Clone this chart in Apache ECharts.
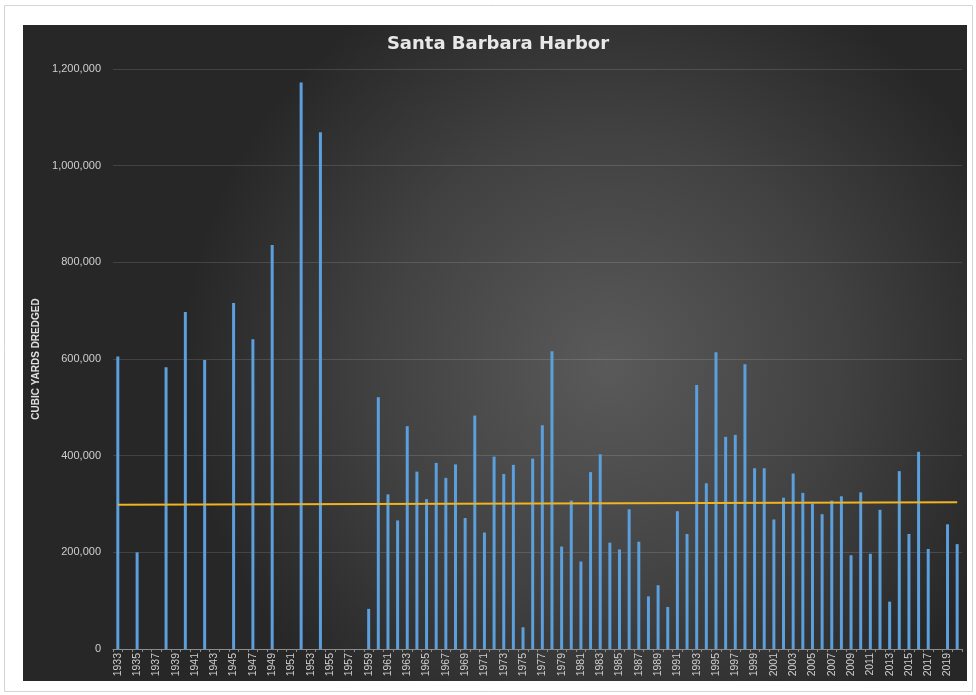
<!DOCTYPE html>
<html>
<head>
<meta charset="utf-8">
<script src="https://cdn.jsdelivr.net/npm/echarts@6/dist/echarts.min.js"></script>
<style>
html,body{margin:0;padding:0;background:#ffffff;}
#chart{width:976px;height:695px;}
</style>
</head>
<body>
<div id="chart"></div>
<script>
var years = ['1933','1934','1935','1936','1937','1938','1939','1940','1941','1942','1943','1944','1945','1946','1947','1948','1949','1950','1951','1952','1953','1954','1955','1956','1957','1958','1959','1960','1961','1962','1963','1964','1965','1966','1967','1968','1969','1970','1971','1972','1973','1974','1975','1976','1977','1978','1979','1980','1981','1982','1983','1984','1985','1986','1987','1988','1989','1990','1991','1992','1993','1994','1995','1996','1997','1998','1999','2000','2001','2002','2003','2004','2005','2006','2007','2008','2009','2010','2011','2012','2013','2014','2015','2016','2017','2018','2019','2020'];

var dredged = [605000,0,200000,0,0,583000,0,697000,0,598000,0,0,716000,0,641000,0,836000,0,0,1172000,0,1069000,0,0,0,0,83000,521000,320000,266000,461000,367000,310000,385000,354000,382000,271000,483000,241000,398000,362000,381000,45000,394000,463000,616000,212000,307000,181000,366000,403000,220000,206000,289000,222000,109000,132000,87000,285000,238000,546000,343000,614000,439000,443000,589000,374000,374000,268000,313000,363000,323000,301000,279000,307000,316000,194000,324000,197000,288000,98000,368000,238000,408000,207000,0,258000,217000];

var trendStart = ['1933', 298500];
var trendEnd = ['2020', 303500];

var chartTitle = 'Santa Barbara Harbor';
var yAxisTitle = 'CUBIC YARDS DREDGED';

var chart = echarts.init(document.getElementById('chart'), null, {renderer: 'canvas'});
chart.setOption({
  backgroundColor: '#ffffff',
  animation: false,
  graphic: [
    {type: 'rect', z: -100, silent: true, shape: {x: 4.5, y: 5.5, width: 968, height: 686},
     style: {fill: '#ffffff', stroke: '#d4d4d4', lineWidth: 1}},
    {type: 'rect', z: -99, silent: true, shape: {x: 23, y: 25, width: 944, height: 656},
     style: {fill: {type: 'radial', x: 0.62, y: 0.52, r: 0.65, colorStops: [
       {offset: 0, color: '#5a5a5a'}, {offset: 0.55, color: '#414141'}, {offset: 1, color: '#272727'}]}}}
  ],
  title: {
    text: chartTitle,
    left: 493, top: 30, textAlign: 'center',
    textStyle: {color: '#e8e8e8', fontSize: 18, fontWeight: 'bold', fontFamily: 'DejaVu Sans'}
  },
  grid: {left: 113, right: 14, top: 69, bottom: 46, containLabel: false},
  xAxis: {
    type: 'category',
    data: years,
    boundaryGap: true,
    axisLine: {show: true, lineStyle: {color: '#8c8c8c', width: 1}},
    axisTick: {show: true, interval: 0, length: 3, lineStyle: {color: '#8c8c8c'}},
    axisLabel: {interval: 1, rotate: 90, color: '#cfcfcf', fontSize: 10.5, margin: 4, fontFamily: 'Liberation Sans'},
    splitLine: {show: false}
  },
  yAxis: {
    type: 'value',
    min: 0, max: 1200000, interval: 200000,
    name: yAxisTitle,
    nameLocation: 'middle',
    nameRotate: 90,
    nameGap: 70,
    nameTextStyle: {color: '#e0e0e0', fontSize: 10, fontWeight: 'bold', fontFamily: 'Liberation Sans'},
    axisLine: {show: false},
    axisTick: {show: false},
    axisLabel: {color: '#cfcfcf', fontSize: 11, margin: 12, fontFamily: 'Liberation Sans',
      formatter: function (v) { return v.toLocaleString('en-US'); }},
    splitLine: {show: true, lineStyle: {color: 'rgba(255,255,255,0.13)', width: 1}}
  },
  series: [{
    type: 'bar',
    data: dredged,
    barWidth: 3,
    itemStyle: {color: '#5b9fdc'},
    markLine: {
      silent: true,
      symbol: ['none', 'none'],
      label: {show: false},
      lineStyle: {color: '#f0b323', width: 2, type: 'solid'},
      data: [[{coord: trendStart}, {coord: trendEnd}]]
    }
  }]
});
</script>
</body>
</html>
